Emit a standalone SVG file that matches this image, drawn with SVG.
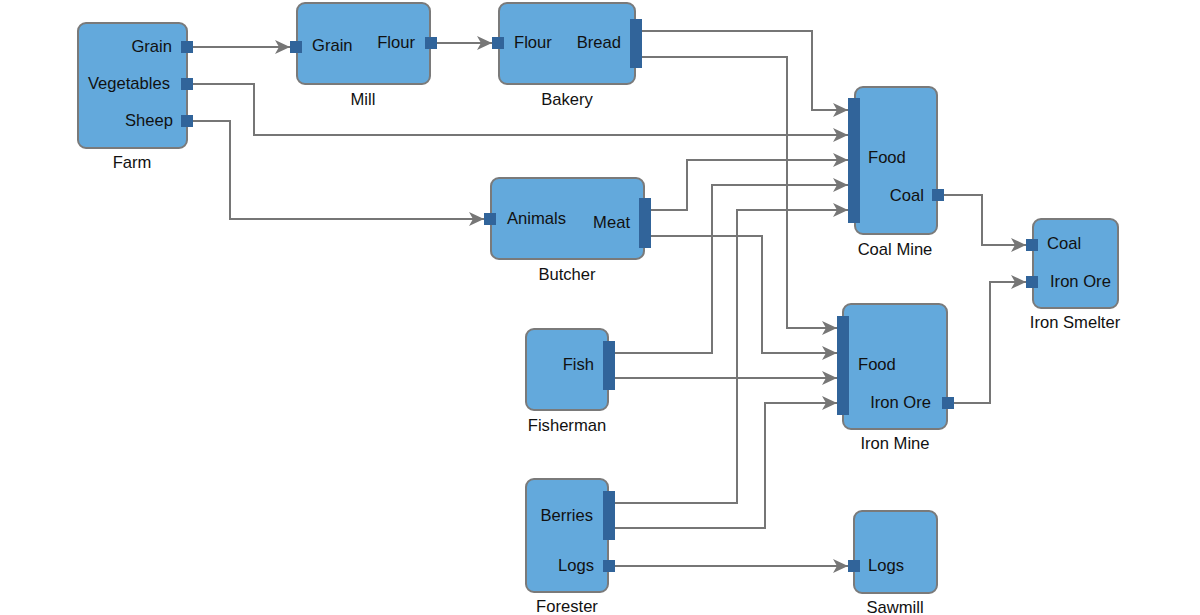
<svg xmlns="http://www.w3.org/2000/svg" width="1200" height="615" viewBox="0 0 1200 615">
<style>
.box{fill:#63a9dc;stroke:#7a7a7a;stroke-width:2}
.port{fill:#31649a}
.t{font-family:"Liberation Sans",Arial,sans-serif;font-size:16.6px;fill:#111}
.e{text-anchor:end}
.m{text-anchor:middle}
.c{fill:none;stroke:#767676;stroke-width:2}
</style>
<defs>
<marker id="arr" markerUnits="userSpaceOnUse" markerWidth="16" markerHeight="16" refX="15" refY="7" orient="auto">
<path d="M0,0 L15,7 L0,14 L4,7 z" fill="#767676"/>
</marker>
</defs>
<g id="connectors">
<path class="c" d="M193,47 H290" marker-end="url(#arr)"/>
<path class="c" d="M437,43 H492" marker-end="url(#arr)"/>
<path class="c" d="M193,84 H254 V135 H848" marker-end="url(#arr)"/>
<path class="c" d="M193,121 H230 V219 H484" marker-end="url(#arr)"/>
<path class="c" d="M642,31 H812 V110 H848" marker-end="url(#arr)"/>
<path class="c" d="M642,57 H787 V328 H837" marker-end="url(#arr)"/>
<path class="c" d="M651,210 H687 V160 H848" marker-end="url(#arr)"/>
<path class="c" d="M651,236 H762 V353 H837" marker-end="url(#arr)"/>
<path class="c" d="M615,353 H712 V185 H848" marker-end="url(#arr)"/>
<path class="c" d="M615,378 H837" marker-end="url(#arr)"/>
<path class="c" d="M615,503 H737 V210 H848" marker-end="url(#arr)"/>
<path class="c" d="M615,528 H765 V403 H837" marker-end="url(#arr)"/>
<path class="c" d="M615,566 H848" marker-end="url(#arr)"/>
<path class="c" d="M944,195 H982 V245 H1026" marker-end="url(#arr)"/>
<path class="c" d="M954,403 H990 V282 H1026" marker-end="url(#arr)"/>
</g>
<g id="farm">
<rect class="box" x="78" y="23" width="109" height="125" rx="8"/>
<rect class="port" x="181" y="41" width="12" height="12"/>
<rect class="port" x="181" y="78" width="12" height="12"/>
<rect class="port" x="181" y="115" width="12" height="12"/>
<text class="t e" x="172" y="52">Grain</text>
<text class="t e" x="170" y="89">Vegetables</text>
<text class="t e" x="173" y="126">Sheep</text>
<text class="t m" x="132" y="168">Farm</text>
</g>
<g id="mill">
<rect class="box" x="297" y="3" width="133" height="81" rx="8"/>
<rect class="port" x="290" y="41" width="12" height="12"/>
<rect class="port" x="425" y="37" width="12" height="12"/>
<text class="t" x="312" y="51">Grain</text>
<text class="t e" x="415" y="48">Flour</text>
<text class="t m" x="363" y="105">Mill</text>
</g>
<g id="bakery">
<rect class="box" x="499" y="3" width="136" height="81" rx="8"/>
<rect class="port" x="492" y="37" width="12" height="12"/>
<rect class="port" x="630" y="19" width="12" height="49"/>
<text class="t" x="514" y="48">Flour</text>
<text class="t e" x="621" y="48">Bread</text>
<text class="t m" x="567" y="105">Bakery</text>
</g>
<g id="butcher">
<rect class="box" x="491" y="178" width="153" height="81" rx="8"/>
<rect class="port" x="484" y="213" width="12" height="12"/>
<rect class="port" x="639" y="198" width="12" height="50"/>
<text class="t" x="507" y="224">Animals</text>
<text class="t e" x="630" y="228">Meat</text>
<text class="t m" x="567" y="280">Butcher</text>
</g>
<g id="coalmine">
<rect class="box" x="855" y="87" width="82" height="147" rx="8"/>
<rect class="port" x="848" y="98" width="12" height="125"/>
<rect class="port" x="932" y="189" width="12" height="12"/>
<text class="t" x="868" y="163">Food</text>
<text class="t e" x="924" y="201">Coal</text>
<text class="t m" x="895" y="255">Coal Mine</text>
</g>
<g id="fisherman">
<rect class="box" x="526" y="329" width="82" height="81" rx="8"/>
<rect class="port" x="603" y="341" width="12" height="49"/>
<text class="t e" x="594" y="370">Fish</text>
<text class="t m" x="567" y="431">Fisherman</text>
</g>
<g id="ironmine">
<rect class="box" x="843" y="304" width="104" height="125" rx="8"/>
<rect class="port" x="837" y="316" width="12" height="99"/>
<rect class="port" x="942" y="397" width="12" height="12"/>
<text class="t" x="858" y="370">Food</text>
<text class="t e" x="931" y="408">Iron Ore</text>
<text class="t m" x="895" y="449">Iron Mine</text>
</g>
<g id="forester">
<rect class="box" x="526" y="479" width="82" height="113" rx="8"/>
<rect class="port" x="603" y="491" width="12" height="49"/>
<rect class="port" x="603" y="560" width="12" height="12"/>
<text class="t e" x="593" y="521">Berries</text>
<text class="t e" x="594" y="571">Logs</text>
<text class="t m" x="567" y="612">Forester</text>
</g>
<g id="sawmill">
<rect class="box" x="854" y="511" width="83" height="82" rx="8"/>
<rect class="port" x="848" y="560" width="12" height="12"/>
<text class="t" x="868" y="571">Logs</text>
<text class="t m" x="895" y="613">Sawmill</text>
</g>
<g id="ironsmelter">
<rect class="box" x="1033" y="219" width="85" height="89" rx="8"/>
<rect class="port" x="1026" y="239" width="12" height="12"/>
<rect class="port" x="1026" y="276" width="12" height="12"/>
<text class="t" x="1047" y="249">Coal</text>
<text class="t" x="1050" y="287">Iron Ore</text>
<text class="t m" x="1075" y="328">Iron Smelter</text>
</g>
</svg>
